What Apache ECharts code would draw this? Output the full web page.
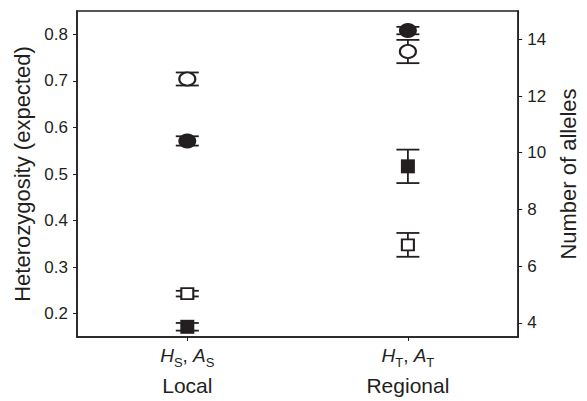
<!DOCTYPE html>
<html><head><meta charset="utf-8">
<script src="https://cdn.jsdelivr.net/npm/echarts@6/dist/echarts.min.js"></script>
<style>html,body{margin:0;padding:0;background:#fff}#c{width:587px;height:401px}</style>
</head><body><div id="c"></div>
<script>
// ---- data ----
const scales = ['Local', 'Regional'];
const subscripts = ['S', 'T'];
const xPos = [1, 2];
// expected heterozygosity (left axis): circles
const hetOpen = [0.704, 0.763];
const hetOpenErr = [0.014, 0.025];
const hetFilled = [0.571, 0.808];
const hetFilledErr = [0.010, 0.008];
// number of alleles (right axis): squares
const allOpen = [5.03, 6.75];
const allOpenErr = [0.10, 0.42];
const allFilled = [3.86, 9.52];
const allFilledErr = [0.135, 0.59];
// tick labels
const leftTicks = [0.2, 0.3, 0.4, 0.5, 0.6, 0.7, 0.8];
const rightTicks = [4, 6, 8, 10, 12, 14];

const INK = '#231f20';
const FONT = 'Liberation Sans, Arial, Helvetica, sans-serif';

function pts(vals) { return vals.map((v, i) => [xPos[i], v]); }
function errs(vals, e) { return vals.map((v, i) => [xPos[i], v - e[i], v + e[i]]); }
function errRender(params, api) {
  const x = api.value(0), lo = api.value(1), hi = api.value(2);
  const a = api.coord([x, lo]), b = api.coord([x, hi]);
  const w = 11.5;
  const style = { stroke: INK, lineWidth: 1.8 };
  return { type: 'group', children: [
    { type: 'line', shape: { x1: a[0], y1: a[1], x2: b[0], y2: b[1] }, style },
    { type: 'line', shape: { x1: a[0] - w, y1: a[1], x2: a[0] + w, y2: a[1] }, style },
    { type: 'line', shape: { x1: b[0] - w, y1: b[1], x2: b[0] + w, y2: b[1] }, style }
  ]};
}
function errSeries(vals, e, yi) {
  return { type: 'custom', yAxisIndex: yi, renderItem: errRender, data: errs(vals, e),
    encode: { x: 0, y: [1, 2] }, z: 2, silent: true };
}
function markSeries(vals, yi, symbol, filled, size) {
  return { type: 'scatter', yAxisIndex: yi, symbol, symbolSize: size, data: pts(vals), z: 5,
    itemStyle: filled ? { color: INK, borderColor: INK, borderWidth: 0, opacity: 1 }
                      : { color: '#fff', borderColor: INK, borderWidth: 2, opacity: 1 } };
}

const chart = echarts.init(document.getElementById('c'), null, { renderer: 'svg' });
chart.setOption({
  animation: false,
  backgroundColor: '#fff',
  grid: { left: 77, right: 59, top: 11, bottom: 64, show: true, borderColor: INK, borderWidth: 1.5, backgroundColor: 'transparent' },
  xAxis: {
    type: 'value', min: 0.5, max: 2.5,
    axisLine: { show: true, lineStyle: { color: INK, width: 1.5 } },
    axisTick: { show: true, customValues: xPos, length: 4, lineStyle: { color: INK } },
    splitLine: { show: false },
    axisLabel: {
      customValues: xPos, margin: 4, color: INK, fontFamily: FONT,
      formatter: v => { const i = xPos.indexOf(v); const s = subscripts[i];
        return `{i|H}{s|${s}}{n|, }{i|A}{s|${s}}\n{b|${scales[i]}}`; },
      rich: {
        i: { fontSize: 19, fontStyle: 'italic', fontFamily: FONT, color: INK, lineHeight: 28 },
        n: { fontSize: 19, fontFamily: FONT, color: INK, lineHeight: 28 },
        s: { fontSize: 13, fontFamily: FONT, color: INK, lineHeight: 10, verticalAlign: 'bottom' },
        b: { fontSize: 21, fontFamily: FONT, color: INK, lineHeight: 32 }
      }
    }
  },
  yAxis: [
    { type: 'value', min: 0.15, max: 0.85, position: 'left',
      name: 'Heterozygosity (expected)', nameLocation: 'middle', nameRotate: 90, nameGap: 44,
      nameTextStyle: { fontSize: 22, fontFamily: FONT, color: INK },
      axisLine: { show: true, lineStyle: { color: INK, width: 1.5 } },
      axisTick: { show: true, customValues: leftTicks, length: 4, lineStyle: { color: INK } },
      splitLine: { show: false },
      axisLabel: { customValues: leftTicks, formatter: v => v.toFixed(1), margin: 9,
        fontSize: 17, fontFamily: FONT, color: INK } },
    { type: 'value', min: 3.5, max: 15, position: 'right',
      name: 'Number of alleles', nameLocation: 'middle', nameRotate: 90, nameGap: 38,
      nameTextStyle: { fontSize: 22, fontFamily: FONT, color: INK },
      axisLine: { show: true, lineStyle: { color: INK, width: 1.5 } },
      axisTick: { show: true, customValues: rightTicks, length: 4, lineStyle: { color: INK } },
      splitLine: { show: false },
      axisLabel: { customValues: rightTicks, margin: 9, fontSize: 17, fontFamily: FONT, color: INK } }
  ],
  series: [
    errSeries(hetOpen, hetOpenErr, 0),
    errSeries(hetFilled, hetFilledErr, 0),
    errSeries(allOpen, allOpenErr, 1),
    errSeries(allFilled, allFilledErr, 1),
    markSeries(hetOpen, 0, 'circle', false, [16, 13]),
    markSeries(hetFilled, 0, 'circle', true, [18, 15]),
    markSeries(allOpen, 1, 'rect', false, [12, 11]),
    markSeries(allFilled, 1, 'rect', true, [14, 14])
  ]
});
</script></body></html>
